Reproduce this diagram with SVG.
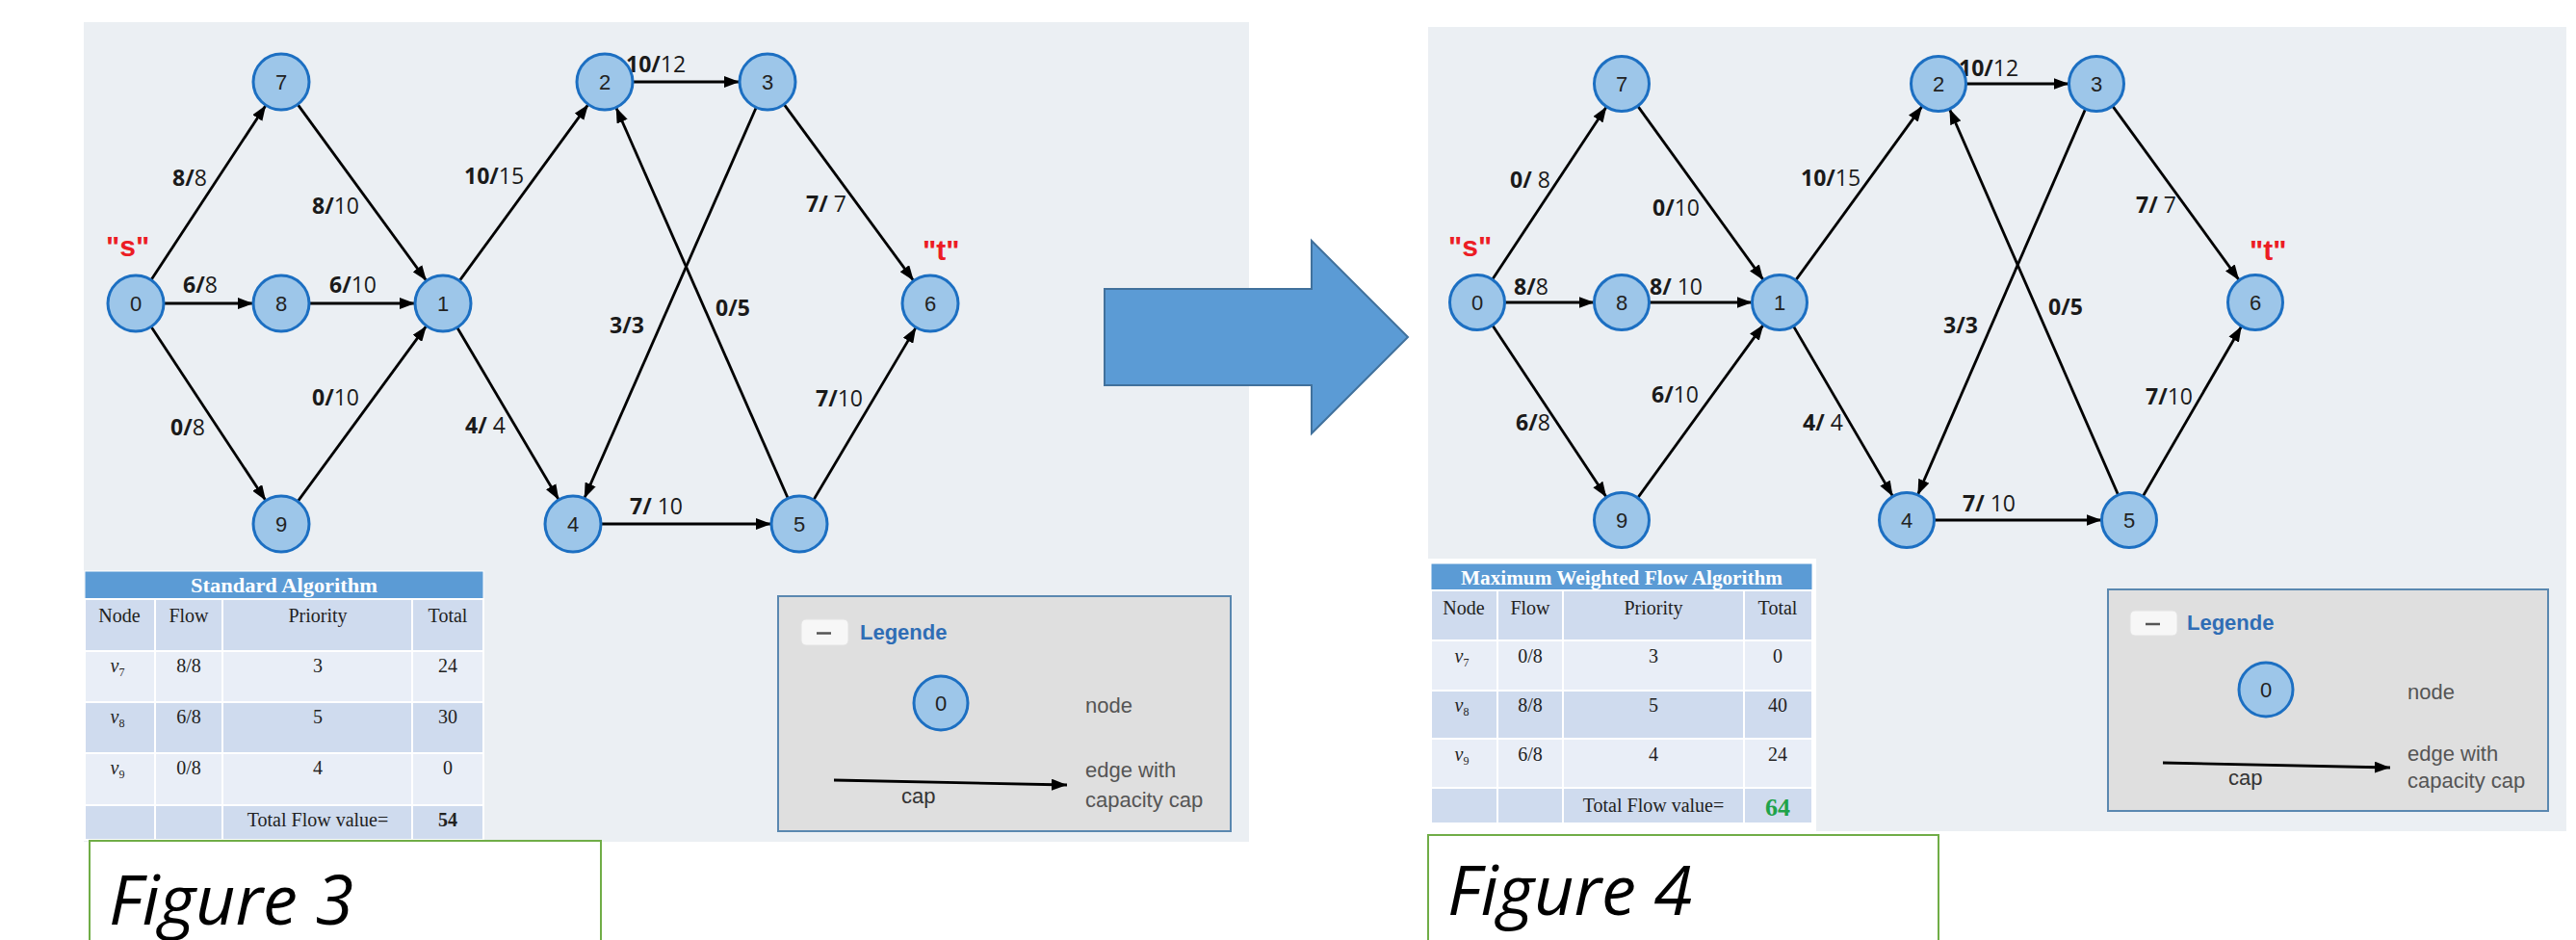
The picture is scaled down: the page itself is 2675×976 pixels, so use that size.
<svg xmlns="http://www.w3.org/2000/svg" width="2675" height="976" viewBox="0 0 2675 976">
<defs>
<marker id="ah" markerWidth="16" markerHeight="12" refX="16" refY="6" orient="auto" markerUnits="userSpaceOnUse"><path d="M0,0 L16,6 L0,12 z" fill="#000"/></marker>
<style>
.bg{fill:#ebeff3}
.nd{fill:#9dc6e9;stroke:#1c6fc2;stroke-width:3}
.nt{font-family:"Liberation Sans",Arial,sans-serif;font-size:22px;fill:#222;text-anchor:middle}
.e{stroke:#000;stroke-width:2.8;fill:none;marker-end:url(#ah)}
.el{font-family:"Open Sans","Liberation Sans",sans-serif;font-size:23px;fill:#1a1a1a}
.b{font-weight:700}
.st{font-family:"Liberation Sans",Arial,sans-serif;font-size:30px;font-weight:700;fill:#ec1c24}
.tt{font-family:"Liberation Serif","Times New Roman",serif;font-size:20px;fill:#222;text-anchor:middle}
.th{font-family:"Liberation Serif","Times New Roman",serif;font-size:20px;font-weight:700;fill:#fff;text-anchor:middle}
.c1{fill:#cfdbee;stroke:#fff;stroke-width:2}
.c2{fill:#e9eef7;stroke:#fff;stroke-width:2}
.ttl{fill:#5b9bd5;stroke:#fff;stroke-width:1}
.lg{fill:#dfdfdf;stroke:#5a88b0;stroke-width:2}
.lbtn{fill:#f7f7f7;stroke:#e2e2e2;stroke-width:1}
.lgt{font-family:"Liberation Sans",Arial,sans-serif;font-size:22px;font-weight:700;fill:#2f6db5}
.lt{font-family:"Liberation Sans",Arial,sans-serif;font-size:22px;fill:#555}
.cap{font-family:"Liberation Sans",Arial,sans-serif;font-size:22px;fill:#333}
.fig{font-family:"Open Sans","Liberation Sans",sans-serif;font-size:72px;font-style:italic;fill:#000}
.fb{fill:#fff;stroke:#70ad47;stroke-width:2}
.green{fill:#1fa34a;font-size:26px}
</style>
</defs>
<rect width="2675" height="976" fill="#fff"/>

<!-- panels -->
<rect class="bg" x="87" y="23" width="1210" height="851"/>
<rect class="bg" x="1483" y="28" width="1182" height="835"/>
<rect x="1483" y="580" width="403" height="283" fill="#fff"/>

<!-- big arrow -->
<g id="bigarrow">
<path d="M1147,300 L1362,300 L1362,250 L1462,350 L1362,450 L1362,400 L1147,400 Z" fill="#5b9bd5" stroke="#41719c" stroke-width="2"/>
</g>

<!-- connectors -->
<g id="connectors">
<!-- left graph -->
<line class="e" x1="156.9" y1="290.8" x2="276.1" y2="109.2"/>
<line class="e" x1="170" y1="315" x2="263" y2="315"/>
<line class="e" x1="157" y1="339.2" x2="276" y2="519.8"/>
<line class="e" x1="309.1" y1="108.4" x2="442.9" y2="291.6"/>
<line class="e" x1="321" y1="315" x2="431" y2="315"/>
<line class="e" x1="309.2" y1="520.6" x2="442.8" y2="338.4"/>
<line class="e" x1="477.1" y1="291.6" x2="610.9" y2="108.4"/>
<line class="e" x1="474.7" y1="340" x2="580.3" y2="519"/>
<line class="e" x1="657" y1="85" x2="768" y2="85"/>
<line class="e" x1="814.2" y1="108.4" x2="948.8" y2="291.6"/>
<line class="e" x1="785.3" y1="111.5" x2="606.7" y2="517.5"/>
<line class="e" x1="818.3" y1="517.5" x2="639.7" y2="111.5"/>
<line class="e" x1="624" y1="544" x2="801" y2="544"/>
<line class="e" x1="844.8" y1="519.1" x2="951.2" y2="339.9"/>
<!-- right graph -->
<line class="e" x1="1549.7" y1="290.2" x2="1668.3" y2="110.8"/>
<line class="e" x1="1562.5" y1="314" x2="1655.5" y2="314"/>
<line class="e" x1="1549.8" y1="337.7" x2="1668.2" y2="516.3"/>
<line class="e" x1="1700.7" y1="110.1" x2="1831.3" y2="290.9"/>
<line class="e" x1="1712.5" y1="314" x2="1819.5" y2="314"/>
<line class="e" x1="1700.7" y1="516.9" x2="1831.3" y2="337.1"/>
<line class="e" x1="1864.8" y1="290.9" x2="1996.2" y2="110.1"/>
<line class="e" x1="1862.4" y1="338.6" x2="1965.6" y2="515.4"/>
<line class="e" x1="2041.5" y1="87" x2="2148.5" y2="87"/>
<line class="e" x1="2193.8" y1="110.1" x2="2325.2" y2="290.9"/>
<line class="e" x1="2165.6" y1="113.1" x2="1991.4" y2="513.9"/>
<line class="e" x1="2199.6" y1="513.9" x2="2024.4" y2="113.1"/>
<line class="e" x1="2008.5" y1="540" x2="2182.5" y2="540"/>
<line class="e" x1="2225.3" y1="515.3" x2="2327.7" y2="338.7"/>

<!-- left labels -->
<text class="el" x="179" y="193"><tspan class="b">8/</tspan>8</text>
<text class="el" x="324" y="222"><tspan class="b">8/</tspan>10</text>
<text class="el" x="190" y="304"><tspan class="b">6/</tspan>8</text>
<text class="el" x="342" y="304"><tspan class="b">6/</tspan>10</text>
<text class="el" x="177" y="452"><tspan class="b">0/</tspan>8</text>
<text class="el" x="324" y="421"><tspan class="b">0/</tspan>10</text>
<text class="el" x="482" y="191"><tspan class="b">10/</tspan>15</text>
<text class="el" x="483" y="450"><tspan class="b">4/</tspan> 4</text>
<text class="el" x="650" y="75"><tspan class="b">10/</tspan>12</text>
<text class="el" x="837" y="220"><tspan class="b">7/</tspan> 7</text>
<text class="el b" x="633" y="346">3/3</text>
<text class="el b" x="743" y="328">0/5</text>
<text class="el" x="847" y="422"><tspan class="b">7/</tspan>10</text>
<text class="el" x="654" y="534"><tspan class="b">7/</tspan> 10</text>
<!-- right labels -->
<text class="el" x="1568" y="195"><tspan class="b">0/</tspan> 8</text>
<text class="el" x="1716" y="224"><tspan class="b">0/</tspan>10</text>
<text class="el" x="1572" y="306"><tspan class="b">8/</tspan>8</text>
<text class="el" x="1713" y="306"><tspan class="b">8/</tspan> 10</text>
<text class="el" x="1574" y="447"><tspan class="b">6/</tspan>8</text>
<text class="el" x="1715" y="418"><tspan class="b">6/</tspan>10</text>
<text class="el" x="1870" y="193"><tspan class="b">10/</tspan>15</text>
<text class="el" x="1872" y="447"><tspan class="b">4/</tspan> 4</text>
<text class="el" x="2034" y="79"><tspan class="b">10/</tspan>12</text>
<text class="el" x="2218" y="221"><tspan class="b">7/</tspan> 7</text>
<text class="el b" x="2018" y="346">3/3</text>
<text class="el b" x="2127" y="327">0/5</text>
<text class="el" x="2228" y="420"><tspan class="b">7/</tspan>10</text>
<text class="el" x="2038" y="531"><tspan class="b">7/</tspan> 10</text>
</g>

<!-- source / sink labels -->
<text class="st" x="110" y="266">"s"</text>
<text class="st" x="958" y="270">"t"</text>
<text class="st" x="1504" y="266">"s"</text>
<text class="st" x="2336" y="270">"t"</text>

<!-- left graph nodes -->
<g id="L0"><circle class="nd" cx="141" cy="315" r="29"/><text class="nt" x="141" y="323">0</text></g>
<g id="L7"><circle class="nd" cx="292" cy="85" r="29"/><text class="nt" x="292" y="93">7</text></g>
<g id="L8"><circle class="nd" cx="292" cy="315" r="29"/><text class="nt" x="292" y="323">8</text></g>
<g id="L9"><circle class="nd" cx="292" cy="544" r="29"/><text class="nt" x="292" y="552">9</text></g>
<g id="L1"><circle class="nd" cx="460" cy="315" r="29"/><text class="nt" x="460" y="323">1</text></g>
<g id="L2"><circle class="nd" cx="628" cy="85" r="29"/><text class="nt" x="628" y="93">2</text></g>
<g id="L3"><circle class="nd" cx="797" cy="85" r="29"/><text class="nt" x="797" y="93">3</text></g>
<g id="L4"><circle class="nd" cx="595" cy="544" r="29"/><text class="nt" x="595" y="552">4</text></g>
<g id="L5"><circle class="nd" cx="830" cy="544" r="29"/><text class="nt" x="830" y="552">5</text></g>
<g id="L6"><circle class="nd" cx="966" cy="315" r="29"/><text class="nt" x="966" y="323">6</text></g>

<!-- right graph nodes -->
<g id="R0"><circle class="nd" cx="1534" cy="314" r="28.5"/><text class="nt" x="1534" y="322">0</text></g>
<g id="R7"><circle class="nd" cx="1684" cy="87" r="28.5"/><text class="nt" x="1684" y="95">7</text></g>
<g id="R8"><circle class="nd" cx="1684" cy="314" r="28.5"/><text class="nt" x="1684" y="322">8</text></g>
<g id="R9"><circle class="nd" cx="1684" cy="540" r="28.5"/><text class="nt" x="1684" y="548">9</text></g>
<g id="R1"><circle class="nd" cx="1848" cy="314" r="28.5"/><text class="nt" x="1848" y="322">1</text></g>
<g id="R2"><circle class="nd" cx="2013" cy="87" r="28.5"/><text class="nt" x="2013" y="95">2</text></g>
<g id="R3"><circle class="nd" cx="2177" cy="87" r="28.5"/><text class="nt" x="2177" y="95">3</text></g>
<g id="R4"><circle class="nd" cx="1980" cy="540" r="28.5"/><text class="nt" x="1980" y="548">4</text></g>
<g id="R5"><circle class="nd" cx="2211" cy="540" r="28.5"/><text class="nt" x="2211" y="548">5</text></g>
<g id="R6"><circle class="nd" cx="2342" cy="314" r="28.5"/><text class="nt" x="2342" y="322">6</text></g>

<!-- left table -->
<g id="table-left">
<rect class="ttl" x="88" y="593" width="414" height="29"/>
<text class="th" x="295" y="615" textLength="194" lengthAdjust="spacingAndGlyphs">Standard Algorithm</text>
<rect class="c1" x="88" y="622" width="73" height="54"/><rect class="c1" x="161" y="622" width="70" height="54"/><rect class="c1" x="231" y="622" width="197" height="54"/><rect class="c1" x="428" y="622" width="74" height="54"/>
<rect class="c2" x="88" y="676" width="73" height="53"/><rect class="c2" x="161" y="676" width="70" height="53"/><rect class="c2" x="231" y="676" width="197" height="53"/><rect class="c2" x="428" y="676" width="74" height="53"/>
<rect class="c1" x="88" y="729" width="73" height="53"/><rect class="c1" x="161" y="729" width="70" height="53"/><rect class="c1" x="231" y="729" width="197" height="53"/><rect class="c1" x="428" y="729" width="74" height="53"/>
<rect class="c2" x="88" y="782" width="73" height="54"/><rect class="c2" x="161" y="782" width="70" height="54"/><rect class="c2" x="231" y="782" width="197" height="54"/><rect class="c2" x="428" y="782" width="74" height="54"/>
<rect class="c1" x="88" y="836" width="73" height="36"/><rect class="c1" x="161" y="836" width="70" height="36"/><rect class="c1" x="231" y="836" width="197" height="36"/><rect class="c1" x="428" y="836" width="74" height="36"/>
<text class="tt" x="124" y="646">Node</text><text class="tt" x="196" y="646">Flow</text><text class="tt" x="330" y="646">Priority</text><text class="tt" x="465" y="646">Total</text>
<text class="tt" x="122" y="698"><tspan font-style="italic">v</tspan><tspan font-size="12" dy="4">7</tspan></text><text class="tt" x="196" y="698">8/8</text><text class="tt" x="330" y="698">3</text><text class="tt" x="465" y="698">24</text>
<text class="tt" x="122" y="751"><tspan font-style="italic">v</tspan><tspan font-size="12" dy="4">8</tspan></text><text class="tt" x="196" y="751">6/8</text><text class="tt" x="330" y="751">5</text><text class="tt" x="465" y="751">30</text>
<text class="tt" x="122" y="804"><tspan font-style="italic">v</tspan><tspan font-size="12" dy="4">9</tspan></text><text class="tt" x="196" y="804">0/8</text><text class="tt" x="330" y="804">4</text><text class="tt" x="465" y="804">0</text>
<text class="tt" x="330" y="858">Total Flow value=</text><text class="tt b" x="465" y="858">54</text>
</g>

<!-- right table -->
<g id="table-right">
<rect class="ttl" x="1486" y="585" width="396" height="28"/>
<text class="th" x="1684" y="607" textLength="334" lengthAdjust="spacingAndGlyphs">Maximum Weighted Flow Algorithm</text>
<rect class="c1" x="1486" y="613" width="69" height="52"/><rect class="c1" x="1555" y="613" width="68" height="52"/><rect class="c1" x="1623" y="613" width="188" height="52"/><rect class="c1" x="1811" y="613" width="71" height="52"/>
<rect class="c2" x="1486" y="665" width="69" height="52"/><rect class="c2" x="1555" y="665" width="68" height="52"/><rect class="c2" x="1623" y="665" width="188" height="52"/><rect class="c2" x="1811" y="665" width="71" height="52"/>
<rect class="c1" x="1486" y="717" width="69" height="50"/><rect class="c1" x="1555" y="717" width="68" height="50"/><rect class="c1" x="1623" y="717" width="188" height="50"/><rect class="c1" x="1811" y="717" width="71" height="50"/>
<rect class="c2" x="1486" y="767" width="69" height="51"/><rect class="c2" x="1555" y="767" width="68" height="51"/><rect class="c2" x="1623" y="767" width="188" height="51"/><rect class="c2" x="1811" y="767" width="71" height="51"/>
<rect class="c1" x="1486" y="818" width="69" height="37"/><rect class="c1" x="1555" y="818" width="68" height="37"/><rect class="c1" x="1623" y="818" width="188" height="37"/><rect class="c1" x="1811" y="818" width="71" height="37"/>
<text class="tt" x="1520" y="638">Node</text><text class="tt" x="1589" y="638">Flow</text><text class="tt" x="1717" y="638">Priority</text><text class="tt" x="1846" y="638">Total</text>
<text class="tt" x="1518" y="688"><tspan font-style="italic">v</tspan><tspan font-size="12" dy="4">7</tspan></text><text class="tt" x="1589" y="688">0/8</text><text class="tt" x="1717" y="688">3</text><text class="tt" x="1846" y="688">0</text>
<text class="tt" x="1518" y="739"><tspan font-style="italic">v</tspan><tspan font-size="12" dy="4">8</tspan></text><text class="tt" x="1589" y="739">8/8</text><text class="tt" x="1717" y="739">5</text><text class="tt" x="1846" y="739">40</text>
<text class="tt" x="1518" y="790"><tspan font-style="italic">v</tspan><tspan font-size="12" dy="4">9</tspan></text><text class="tt" x="1589" y="790">6/8</text><text class="tt" x="1717" y="790">4</text><text class="tt" x="1846" y="790">24</text>
<text class="tt" x="1717" y="843">Total Flow value=</text><text class="tt b green" x="1846" y="847">64</text>
</g>

<!-- left legend -->
<g id="legend-left">
<rect class="lg" x="808" y="619" width="470" height="244"/>
<rect class="lbtn" x="832" y="643" width="49" height="27" rx="5"/>
<line x1="848" y1="657.5" x2="863" y2="657.5" stroke="#555" stroke-width="2.5"/>
<text class="lgt" x="893" y="664">Legende</text>
<circle class="nd" cx="977" cy="730" r="28"/><text class="nt" x="977" y="738">0</text>
<text class="lt" x="1127" y="740">node</text>
<line class="e" x1="866" y1="810" x2="1108" y2="815"/>
<text class="cap" x="936" y="834">cap</text>
<text class="lt" x="1127" y="807">edge with</text>
<text class="lt" x="1127" y="838">capacity cap</text>
</g>

<!-- right legend -->
<g id="legend-right">
<rect class="lg" x="2189" y="612" width="457" height="230"/>
<rect class="lbtn" x="2212" y="634" width="49" height="26" rx="5"/>
<line x1="2228" y1="648" x2="2243" y2="648" stroke="#555" stroke-width="2.5"/>
<text class="lgt" x="2271" y="654">Legende</text>
<circle class="nd" cx="2353" cy="716" r="28"/><text class="nt" x="2353" y="724">0</text>
<text class="lt" x="2500" y="726">node</text>
<line class="e" x1="2246" y1="792" x2="2482" y2="797"/>
<text class="cap" x="2314" y="815">cap</text>
<text class="lt" x="2500" y="790">edge with</text>
<text class="lt" x="2500" y="818">capacity cap</text>
</g>

<!-- figure captions -->
<g id="fig3">
<rect class="fb" x="93" y="873" width="531" height="120"/>
<text class="fig" x="113" y="960">Figure 3</text>
</g>
<g id="fig4">
<rect class="fb" x="1483" y="867" width="530" height="120"/>
<text class="fig" x="1503" y="950">Figure 4</text>
</g>
</svg>
